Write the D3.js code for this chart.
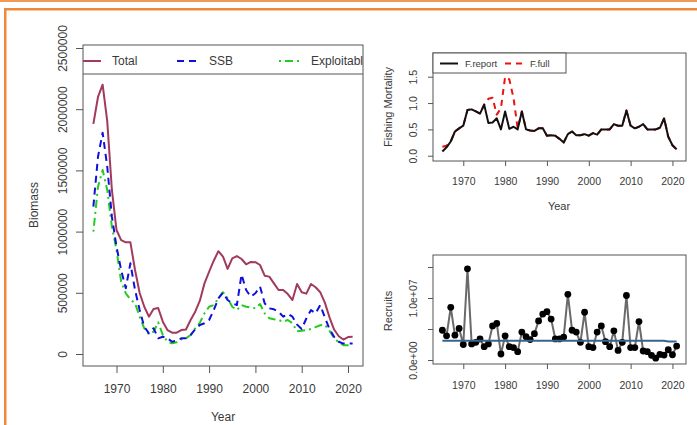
<!DOCTYPE html>
<html>
<head>
<meta charset="utf-8">
<script src="https://cdn.jsdelivr.net/npm/d3@7"></script>
<style>
  body { margin: 0; background: #fff; }
  svg { display: block; font-family: "Liberation Sans", Arial, sans-serif; }
</style>
</head>
<body>
<svg id="chart" width="697" height="425"></svg>
<script>
'use strict';

const years = [1965, 1966, 1967, 1968, 1969, 1970, 1971, 1972, 1973, 1974,
    1975, 1976, 1977, 1978, 1979, 1980, 1981, 1982, 1983, 1984,
    1985, 1986, 1987, 1988, 1989, 1990, 1991, 1992, 1993, 1994,
    1995, 1996, 1997, 1998, 1999, 2000, 2001, 2002, 2003, 2004,
    2005, 2006, 2007, 2008, 2009, 2010, 2011, 2012, 2013, 2014,
    2015, 2016, 2017, 2018, 2019, 2020, 2021];

const totalBiomass = [1880000, 2100000, 2200000, 1900000, 1340000, 1013000, 931000, 912000, 912000, 686000,
    498000, 386000, 305000, 368000, 376000, 264000, 196000, 174000, 174000, 196000,
    200000, 278000, 346000, 436000, 577000, 672000, 762000, 840000, 795000, 695000,
    782000, 800000, 776000, 733000, 752000, 750000, 727000, 640000, 632000, 577000,
    523000, 523000, 490000, 441000, 572000, 504000, 493000, 572000, 545000, 505000,
    420000, 300000, 200000, 145000, 118000, 138000, 140000];

const ssb = [1204000, 1612000, 1808000, 1530000, 1122000, 877000, 686000, 537000, 741000, 523000,
    359000, 223000, 169000, 210000, 128000, 141000, 128000, 100000, 109000, 128000,
    128000, 155000, 202000, 237000, 251000, 278000, 359000, 455000, 501000, 441000,
    414000, 400000, 650000, 523000, 468000, 496000, 550000, 414000, 373000, 365000,
    346000, 305000, 327000, 305000, 240000, 205000, 290000, 359000, 332000, 400000,
    300000, 205000, 140000, 100000, 85000, 85000, 85000];

const exploitable = [999000, 1367000, 1503000, 1340000, 1040000, 850000, 591000, 496000, 447000, 414000,
    305000, 210000, 161000, 182000, 259000, 155000, 100000, 87000, 96000, 120000,
    128000, 155000, 210000, 256000, 332000, 386000, 400000, 455000, 505000, 455000,
    386000, 359000, 400000, 386000, 381000, 373000, 408000, 332000, 292000, 284000,
    278000, 264000, 278000, 251000, 185000, 190000, 195000, 205000, 220000, 235000,
    240000, 190000, 130000, 95000, 72000, 72000, 72000];

const fReport = [0.08, 0.16, 0.27, 0.46, 0.52, 0.57, 0.87, 0.88, 0.84, 0.80,
    0.97, 0.62, 0.63, 0.71, 0.50, 0.84, 0.51, 0.55, 0.50, 0.84,
    0.50, 0.48, 0.47, 0.52, 0.52, 0.38, 0.39, 0.38, 0.32, 0.25,
    0.41, 0.46, 0.39, 0.39, 0.41, 0.38, 0.43, 0.40, 0.50, 0.50,
    0.50, 0.60, 0.57, 0.57, 0.86, 0.57, 0.52, 0.55, 0.60, 0.50,
    0.50, 0.50, 0.53, 0.71, 0.36, 0.20, 0.12];

const fFull = [0.17, 0.19, 0.27, 0.46, 0.52, 0.57, 0.87, 0.88, 0.84, 0.80,
    0.97, 1.08, 1.10, 0.78, 0.90, 1.50, 1.45, 1.10, 0.52, 0.84,
    0.50, 0.48, 0.47, 0.52, 0.52, 0.38, 0.39, 0.38, 0.32, 0.25,
    0.41, 0.46, 0.39, 0.39, 0.41, 0.38, 0.43, 0.40, 0.50, 0.50,
    0.50, 0.60, 0.57, 0.57, 0.86, 0.57, 0.52, 0.55, 0.60, 0.50,
    0.50, 0.50, 0.53, 0.71, 0.36, 0.20, 0.12];

const recruits = [4800000, 3900000, 8500000, 4000000, 5100000, 2500000, 14700000, 2600000, 2850000, 3400000,
    2150000, 2600000, 5500000, 5900000, 970000, 3900000, 2150000, 2000000, 1350000, 4500000,
    3750000, 3300000, 4250000, 6300000, 7400000, 7800000, 6600000, 3400000, 3400000, 3700000,
    10600000, 4800000, 4500000, 2850000, 7700000, 2150000, 2000000, 4500000, 5500000, 2950000,
    2150000, 4700000, 1550000, 2850000, 10400000, 2000000, 2000000, 6200000, 1450000, 1350000,
    750000, 300000, 900000, 800000, 1650000, 850000, 2250000];

const recruitFit = [3100000, 3100000, 3100000, 3100000, 3100000, 3100000, 3100000, 3100000, 3100000, 3100000,
    3100000, 3100000, 3100000, 3100000, 3100000, 3100000, 3100000, 3100000, 3100000, 3100000,
    3100000, 3100000, 3100000, 3100000, 3100000, 3100000, 3100000, 3100000, 3100000, 3100000,
    3100000, 3100000, 3100000, 3100000, 3100000, 3100000, 3100000, 3100000, 3100000, 3100000,
    3100000, 3100000, 3100000, 3100000, 3100000, 3100000, 3100000, 3100000, 3100000, 3100000,
    3100000, 3100000, 3100000, 3100000, 3000000, 3000000, 3000000];

const yearTicks = [1970, 1980, 1990, 2000, 2010, 2020];
const biomassTicks = [0, 500000, 1000000, 1500000, 2000000, 2500000];
const fTicks = [0, 0.5, 1.0, 1.5];
const recruitTicks = [0, 5000000, 10000000, 15000000];
const recruitTickLabels = { 0: "0.0e+00", 10000000: "1.0e+07" };

const textColor = "#3a3a3a";
const boxColor = "#555";

let svg = d3.select("#chart");

// orange page frame
svg.append("rect").attr("x", 0).attr("y", 0).attr("width", 697).attr("height", 2).attr("fill", "#f29a55");
svg.append("rect").attr("x", 4).attr("y", 8).attr("width", 693).attr("height", 2.5).attr("fill", "#f0883a");
svg.append("rect").attr("x", 4).attr("y", 8).attr("width", 2.5).attr("height", 417).attr("fill", "#f0883a");

function makePanel(cfg) {
    let { left, right, top, bottom, yDomain, fontSize, tickLen, id } = cfg;

    let xScale = d3.scaleLinear().domain([1962.76, 2023.24]).range([left, right]);
    let yScale = d3.scaleLinear().domain(yDomain).range([bottom, top]);

    let g = svg.append("g");

    svg.append("clipPath").attr("id", id)
        .append("rect")
        .attr("x", left).attr("y", top)
        .attr("width", right - left).attr("height", bottom - top);

    let xAxis = g.append("g")
        .attr("transform", "translate(0," + bottom + ")")
        .call(d3.axisBottom(xScale).tickValues(yearTicks).tickFormat(d3.format("d")).tickSize(tickLen).tickPadding(cfg.xPad));
    let yAxis = g.append("g")
        .attr("transform", "translate(" + left + ",0)")
        .call(d3.axisLeft(yScale).tickValues(cfg.yTicks).tickFormat(cfg.yFormat).tickSize(tickLen));

    [xAxis, yAxis].forEach(a => {
        a.select(".domain").remove();
        a.selectAll("line").attr("stroke", boxColor);
        a.selectAll("text").attr("fill", textColor).style("font-size", fontSize + "px");
    });

    yAxis.selectAll("text")
        .attr("x", 0).attr("dy", 0)
        .attr("text-anchor", "middle")
        .attr("transform", "translate(" + (-cfg.yLabOff) + ",0) rotate(-90)");

    g.append("rect")
        .attr("x", left).attr("y", top)
        .attr("width", right - left).attr("height", bottom - top)
        .attr("fill", "none").attr("stroke", boxColor).attr("stroke-width", 1);

    let plot = svg.append("g").attr("clip-path", "url(#" + id + ")");
    return { xScale, yScale, g, plot };
}

function addLine(panel, values, color, dash, width) {
    let line = d3.line()
        .x((d, i) => panel.xScale(years[i]))
        .y(d => panel.yScale(d));
    panel.plot.append("path")
        .datum(values)
        .attr("d", line)
        .attr("fill", "none")
        .attr("stroke", color)
        .attr("stroke-width", width || 2)
        .attr("stroke-dasharray", dash)
        .attr("stroke-linejoin", "round");
}

// ---- Biomass panel ----
let bio = makePanel({
    id: "clipBio", left: 83, right: 363, top: 45, bottom: 366,
    yDomain: [-98000, 2524500], yTicks: biomassTicks, yFormat: d3.format("d"),
    fontSize: 12, tickLen: 7, xPad: 11, yLabOff: 16.5
});
addLine(bio, exploitable, "#22cc22", "2,4,8,4");
addLine(bio, ssb, "#1010dd", "7,5");
addLine(bio, totalBiomass, "#a23a5e");

bio.g.append("text").attr("x", 223).attr("y", 421)
    .attr("text-anchor", "middle").attr("fill", textColor).style("font-size", "12px").text("Year");
bio.g.append("text").attr("transform", "translate(37.5,205) rotate(-90)")
    .attr("text-anchor", "middle").attr("fill", textColor).style("font-size", "12px").text("Biomass");

let bioLegend = [
    { name: "Total", color: "#a23a5e", dash: null, x: 80 },
    { name: "SSB", color: "#1010dd", dash: "7,5", x: 177 },
    { name: "Exploitable", color: "#22cc22", dash: "2,4,8,4", x: 279 }
];
bio.plot.append("line").attr("x1", 83).attr("x2", 363).attr("y1", 74).attr("y2", 74)
    .attr("stroke", boxColor);
bioLegend.forEach(d => {
    bio.plot.append("line")
        .attr("x1", d.x).attr("x2", d.x + 21).attr("y1", 61).attr("y2", 61)
        .attr("stroke", d.color).attr("stroke-width", 2).attr("stroke-dasharray", d.dash);
    bio.plot.append("text")
        .attr("x", d.x + 32).attr("y", 65)
        .attr("fill", textColor).style("font-size", "12px").text(d.name);
});

// ---- Fishing mortality panel ----
let fm = makePanel({
    id: "clipF", left: 433, right: 686, top: 53, bottom: 161,
    yDomain: [-0.1, 1.95], yTicks: fTicks, yFormat: d3.format(".1f"),
    fontSize: 10.5, tickLen: 5, xPad: 12, yLabOff: 16
});
addLine(fm, fFull, "#ee1111", "6,5");
addLine(fm, fReport, "#111");

fm.g.append("text").attr("x", 559).attr("y", 209.5)
    .attr("text-anchor", "middle").attr("fill", textColor).style("font-size", "11px").text("Year");
fm.g.append("text").attr("transform", "translate(392,107) rotate(-90)")
    .attr("text-anchor", "middle").attr("fill", textColor).style("font-size", "11px").text("Fishing Mortality");

fm.g.append("rect").attr("x", 433).attr("y", 53).attr("width", 133).attr("height", 20)
    .attr("fill", "#fff").attr("stroke", boxColor);
let fLegend = [
    { name: "F.report", color: "#111", dash: null, x: 440 },
    { name: "F.full", color: "#ee1111", dash: "6,5", x: 505 }
];
fLegend.forEach(d => {
    fm.g.append("line")
        .attr("x1", d.x).attr("x2", d.x + 18).attr("y1", 63.5).attr("y2", 63.5)
        .attr("stroke", d.color).attr("stroke-width", 2).attr("stroke-dasharray", d.dash);
    fm.g.append("text")
        .attr("x", d.x + 25).attr("y", 67)
        .attr("fill", textColor).style("font-size", "9.5px").text(d.name);
});

// ---- Recruits panel ----
let rec = makePanel({
    id: "clipR", left: 433, right: 686, top: 255, bottom: 364,
    yDomain: [-645000, 16935000], yTicks: recruitTicks, yFormat: d => recruitTickLabels[d] || "",
    fontSize: 10.5, tickLen: 5, xPad: 13, yLabOff: 16
});
addLine(rec, recruits, "#6a6a6a", null, 2);
rec.plot.selectAll(".pt")
    .data(recruits)
    .enter()
    .append("circle")
    .attr("cx", (d, i) => rec.xScale(years[i]))
    .attr("cy", d => rec.yScale(d))
    .attr("r", 3.4)
    .attr("fill", "#000");
addLine(rec, recruitFit, "#386590", null, 2);

rec.g.append("text").attr("transform", "translate(392,311) rotate(-90)")
    .attr("text-anchor", "middle").attr("fill", textColor).style("font-size", "11px").text("Recruits");
</script>
</body>
</html>
